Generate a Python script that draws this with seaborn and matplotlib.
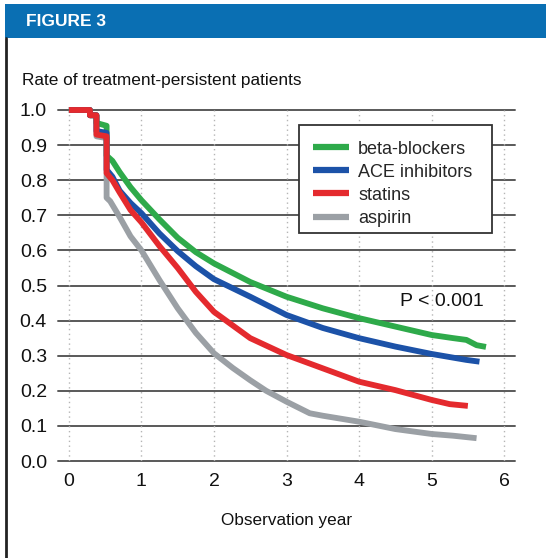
import matplotlib
matplotlib.use("Agg")
import matplotlib.pyplot as plt
from matplotlib import font_manager
import seaborn as sns
import pandas as pd
import numpy as np

# ---------------- data ----------------
series_names = ["beta-blockers", "ACE inhibitors", "statins", "aspirin"]
series_colors = ["#2eaa4a", "#1c52a8", "#e42a2e", "#9ba0a5"]

beta_t = [0, 0.29, 0.29, 0.38, 0.38, 0.52, 0.52, 0.6, 0.7, 0.85, 1.0, 1.25, 1.5, 1.75, 2.0, 2.5, 3.0, 3.5, 4.0, 4.5, 5.0, 5.3, 5.48, 5.62, 5.75]
beta_v = [1.0, 1.0, 0.985, 0.985, 0.963, 0.955, 0.87, 0.855, 0.823, 0.78, 0.743, 0.688, 0.636, 0.595, 0.563, 0.51, 0.468, 0.435, 0.407, 0.383, 0.359, 0.35, 0.345, 0.33, 0.325]

ace_t = [0, 0.29, 0.29, 0.38, 0.38, 0.52, 0.52, 0.6, 0.7, 0.85, 1.0, 1.25, 1.5, 1.75, 2.0, 2.5, 3.0, 3.5, 4.0, 4.5, 5.0, 5.48, 5.66]
ace_v = [1.0, 1.0, 0.985, 0.985, 0.94, 0.935, 0.83, 0.81, 0.77, 0.735, 0.706, 0.648, 0.598, 0.555, 0.518, 0.468, 0.416, 0.379, 0.35, 0.326, 0.305, 0.288, 0.283]

stat_t = [0, 0.29, 0.29, 0.38, 0.38, 0.52, 0.52, 0.6, 0.7, 0.85, 1.0, 1.25, 1.5, 1.75, 2.0, 2.5, 3.0, 3.5, 4.0, 4.5, 5.0, 5.25, 5.5]
stat_v = [1.0, 1.0, 0.985, 0.985, 0.93, 0.925, 0.82, 0.80, 0.765, 0.715, 0.68, 0.612, 0.55, 0.482, 0.425, 0.35, 0.302, 0.264, 0.226, 0.202, 0.174, 0.162, 0.157]

asp_t = [0, 0.29, 0.29, 0.38, 0.38, 0.52, 0.52, 0.57, 0.7, 0.85, 1.0, 1.25, 1.5, 1.75, 2.0, 2.26, 2.5, 2.72, 3.0, 3.32, 3.5, 4.0, 4.5, 5.0, 5.3, 5.62]
asp_v = [1.0, 1.0, 0.985, 0.985, 0.925, 0.92, 0.75, 0.74, 0.695, 0.64, 0.60, 0.515, 0.435, 0.365, 0.307, 0.265, 0.23, 0.2, 0.169, 0.136, 0.129, 0.112, 0.091, 0.077, 0.072, 0.065]

x_ticks = [0, 1, 2, 3, 4, 5, 6]
y_ticks = [0.0, 0.1, 0.2, 0.3, 0.4, 0.5, 0.6, 0.7, 0.8, 0.9, 1.0]
y_tick_labels = ["0.0", "0.1", "0.2", "0.3", "0.4", "0.5", "0.6", "0.7", "0.8", "0.9", "1.0"]

title_text = "FIGURE 3"
ylabel_text = "Rate of treatment-persistent patients"
xlabel_text = "Observation year"
p_text = "P < 0.001"

# ---------------- build frame ----------------
rows = []
for name, ts, vs in zip(series_names, [beta_t, ace_t, stat_t, asp_t], [beta_v, ace_v, stat_v, asp_v]):
    for i, (t, v) in enumerate(zip(ts, vs)):
        rows.append({"year": t, "rate": v, "drug": name, "order": i})
df = pd.DataFrame(rows)

sns.set_theme(style="white")
avail = {f.name for f in font_manager.fontManager.ttflist}
base_font = "Liberation Sans" if "Liberation Sans" in avail else "DejaVu Sans"
plt.rcParams["font.family"] = [base_font, "DejaVu Sans"]

fig = plt.figure(figsize=(5.46, 5.58), dpi=100)
fig.patch.set_facecolor("white")

# header bar
fig.patches.append(plt.Rectangle((5 / 546, 1 - 38 / 558), 1 - 5 / 546, 34 / 558,
                                 transform=fig.transFigure, facecolor="#0a6fb3",
                                 edgecolor="none", zorder=0))
fig.text(26 / 546, 1 - 21.5 / 558, title_text, color="white", fontsize=12.5,
         fontweight="bold", ha="left", va="center")
# left border line
fig.add_artist(plt.Line2D([6 / 546, 6 / 546], [0, 1 - 38 / 558], transform=fig.transFigure,
                          color="#222222", lw=2.0))

ax = fig.add_axes([58 / 546, 97 / 558, 457 / 546, 351 / 558])
ax.set_facecolor("white")
ax.set_xlim(-0.15, 6.15)
ax.set_ylim(0, 1.0)

for yt in y_ticks:
    ax.axhline(yt, color="#595959", lw=1.4, zorder=1, clip_on=False)
for xt in x_ticks:
    ax.axvline(xt, color="#b5b5b5", lw=1.0, ls=(0, (1, 2.5)), zorder=1)

n_before = len(ax.get_lines())
sns.lineplot(data=df, x="year", y="rate", hue="drug", hue_order=series_names,
             palette=series_colors, estimator=None, sort=False, units="drug",
             lw=4.2, ax=ax, legend=True)
zorders = {"#2eaa4a": 3.0, "#1c52a8": 3.2, "#e42a2e": 3.4, "#9ba0a5": 2.8}
for ln in ax.get_lines()[n_before:]:
    ln.set_clip_on(False)
    ln.set_solid_capstyle("butt")
    c = matplotlib.colors.to_hex(ln.get_color())
    ln.set_zorder(zorders.get(c, 3))

for s in ax.spines.values():
    s.set_visible(False)
ax.set_xticks(x_ticks)
ax.set_xticklabels([str(x) for x in x_ticks], fontsize=14)
ax.set_yticks(y_ticks)
ax.set_yticklabels(y_tick_labels, fontsize=14)
ax.tick_params(axis="both", length=0, colors="#111111")
ax.tick_params(axis="x", pad=9)
ax.tick_params(axis="y", pad=8)
ax.set_xlabel("")
ax.set_ylabel("")

fig.text(287 / 546, 1 - 520 / 558, xlabel_text, fontsize=12.3, ha="center", va="center", color="#111111")
fig.text(22 / 546, 1 - 80 / 558, ylabel_text, fontsize=12.4, ha="left", va="center", color="#111111")

ax.text(5.72, 0.455, p_text, fontsize=14, ha="right", va="center", color="#111111")

# legend frame (fixed box) + frameless legend
ax.add_patch(plt.Rectangle((241 / 457, 228 / 351), 193 / 457, 108 / 351,
                           transform=ax.transAxes, facecolor="white",
                           edgecolor="#333333", lw=1.3, zorder=4.5, clip_on=False))
handles, labels = ax.get_legend_handles_labels()
leg = ax.legend(handles, labels, loc="upper left", bbox_to_anchor=(255 / 457, 320.5 / 351),
                fontsize=13, frameon=False, handlelength=2.0, handletextpad=0.5,
                labelspacing=0.34, borderpad=0.0, borderaxespad=0.0, title=None)
for h in leg.get_lines():
    h.set_linewidth(4.5)
leg.set_zorder(5)

fig.savefig("out.png", dpi=100, facecolor="white")
